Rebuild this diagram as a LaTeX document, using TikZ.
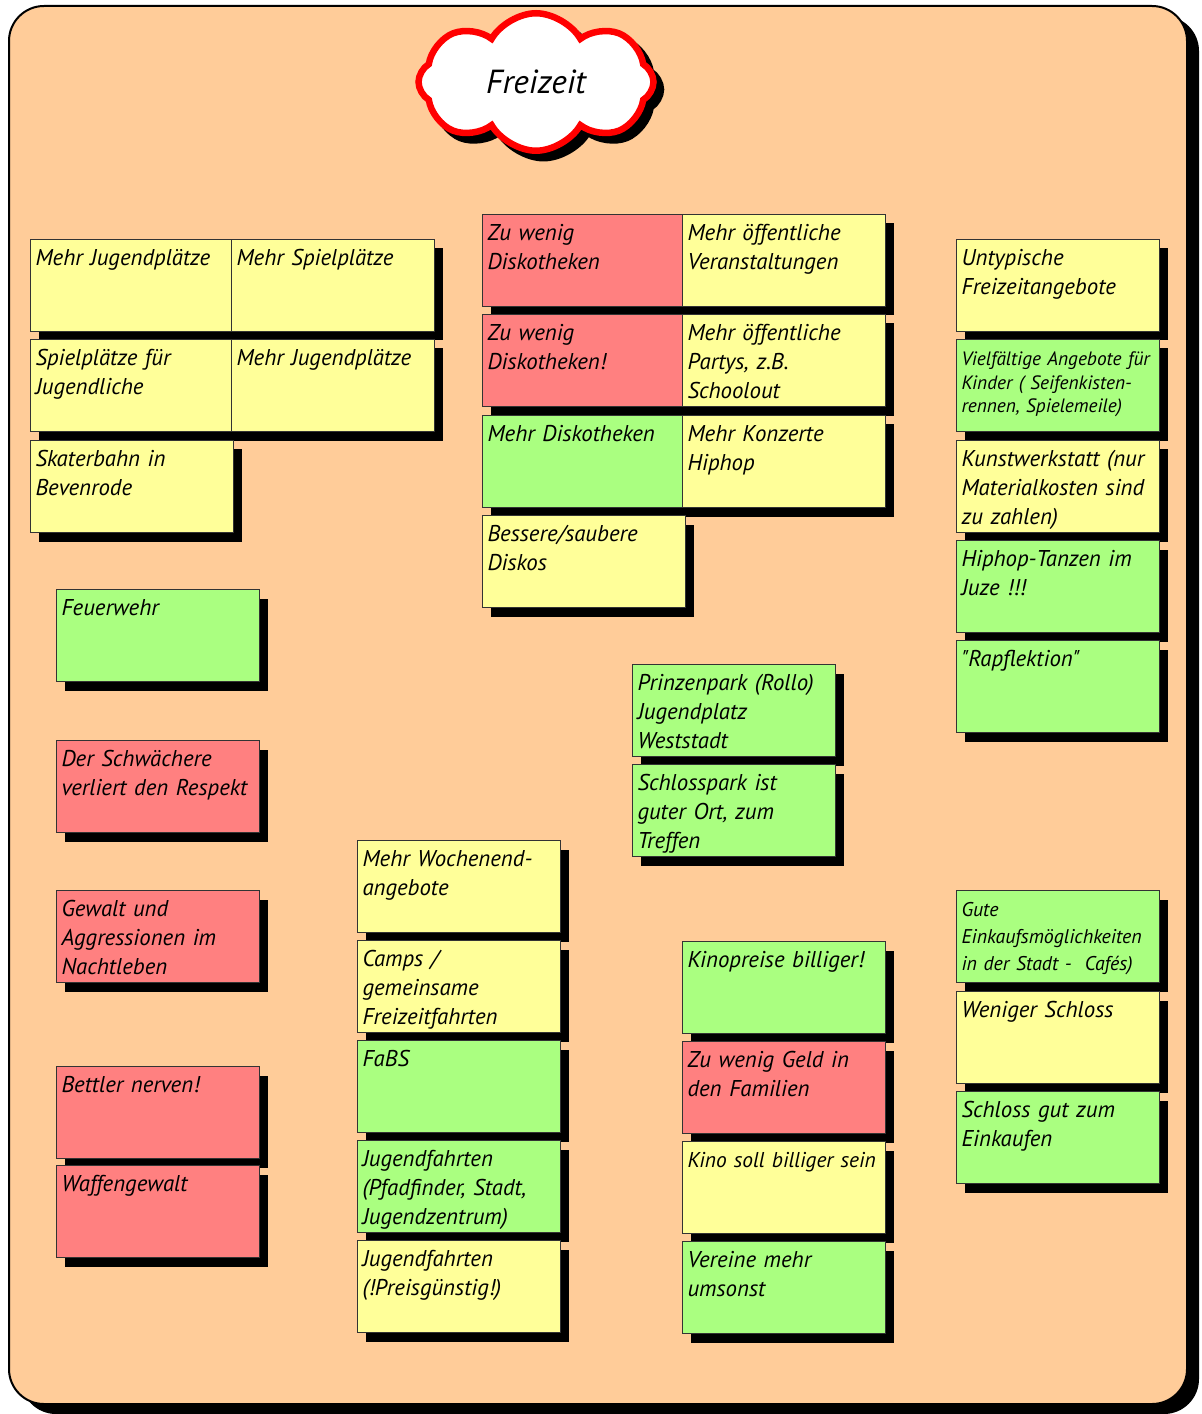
\documentclass[tikz,border=0pt]{standalone}
\usepackage{fontspec}
\setmainfont{PT Sans}[WordSpace=0.6]
\usetikzlibrary{shapes.symbols,shadows}

\definecolor{peach}{HTML}{FFCC99}
\definecolor{idea}{HTML}{FFFF99}
\definecolor{pro}{HTML}{AAFF80}
\definecolor{contra}{HTML}{FF8080}

\begin{document}
\begin{tikzpicture}
    [
        x=0.2mm, y=-0.2mm,
        frame/.style={draw=black, line width=0.4mm, fill=peach, rounded corners=7mm,
            general shadow={fill=black, shadow xshift=2.4mm, shadow yshift=-2mm}},
        title/.style={cloud, cloud puffs=8, cloud puff arc=120, aspect=1.7,
            draw=red, line width=1.3mm, fill=white, minimum width=47mm, minimum height=27.5mm,
            font=\itshape\fontsize{19}{21}\selectfont,
            general shadow={fill=black, draw=black, shadow xshift=1.5mm, shadow yshift=-1.5mm}},
        card/.style={rectangle, draw=black!80, line width=0.2mm, anchor=north west,
            text width=38.6mm, inner xsep=1mm, inner ysep=1mm,
            text height=4.2mm, text depth=12.2mm, align=left,
            font=\itshape\fontsize{13}{16.5}\selectfont,
            general shadow={fill=black, shadow xshift=1.7mm, shadow yshift=-1.8mm}},
        small/.style={font=\itshape\fontsize{11}{13.5}\selectfont},
        smallwide/.style={font=\itshape\fontsize{11.3}{15.5}\selectfont},
        tight/.style={font=\itshape\fontsize{12.2}{16.5}\selectfont},
        idea/.style={card, fill=idea},
        pro/.style={card, fill=pro},
        contra/.style={card, fill=contra},
    ]

    \useasboundingbox (0,0) rectangle (1201,1414);
    \draw[frame] (9,6) rectangle (1187,1404);

    % title
    \node (0) at (536,82) [title] {Freizeit};

    % plaetze
    \node (1) at (30,239)  [idea] {Mehr Jugendplätze};
    \node (2) at (231,239) [idea] {Mehr Spielplätze};
    \node (3) at (30,339)  [idea] {Spielplätze für\\Jugendliche};
    \node (4) at (231,339) [idea] {Mehr Jugendplätze};
    \node (5) at (30,440)  [idea] {Skaterbahn in\\Bevenrode};

    % diskos
    \node (6)  at (482,214) [contra] {Zu wenig\\Diskotheken};
    \node (7)  at (682,214) [idea]   {Mehr öffentliche\\Veranstaltungen};
    \node (8)  at (482,314) [contra] {Zu wenig\\Diskotheken!};
    \node (9)  at (682,314) [idea]   {Mehr öffentliche\\Partys, z.B.\\Schoolout};
    \node (10) at (482,415) [pro]    {Mehr Diskotheken};
    \node (11) at (682,415) [idea]   {Mehr Konzerte\\Hiphop};
    \node (12) at (482,515) [idea]   {Bessere/saubere\\Diskos};

    % angebote
    \node (13) at (956,239) [idea]       {Untypische\\Freizeitangebote};
    \node (14) at (956,339) [pro, small] {Vielfältige Angebote für\\Kinder ( Seifenkisten-\\rennen, Spielemeile)};
    \node (15) at (956,440) [idea]       {Kunstwerkstatt (nur\\Materialkosten sind\\zu zahlen)};
    \node (16) at (956,540) [pro]        {Hiphop-Tanzen im\\Juze !!!};
    \node (17) at (956,640) [pro]        {\textquotedbl Rapflektion\textquotedbl};

    % links
    \node (18) at (56,589)  [pro]    {Feuerwehr};
    \node (19) at (56,740)  [contra] {Der Schwächere\\verliert den Respekt};
    \node (20) at (56,890)  [contra] {Gewalt und\\Aggressionen im\\Nachtleben};
    \node (21) at (56,1066) [contra] {Bettler nerven!};
    \node (22) at (56,1165) [contra] {Waffengewalt};

    % parks
    \node (23) at (632,664) [pro] {Prinzenpark (Rollo)\\Jugendplatz\\Weststadt};
    \node (24) at (632,764) [pro] {Schlosspark ist\\guter Ort, zum\\Treffen};

    % fahrten
    \node (25) at (357,840)  [idea] {Mehr Wochenend-\\angebote};
    \node (26) at (357,940)  [idea] {Camps /\\gemeinsame\\Freizeitfahrten};
    \node (27) at (357,1040) [pro]  {FaBS};
    \node (28) at (357,1140) [pro]  {Jugendfahrten\\(Pfadfinder, Stadt,\\Jugendzentrum)};
    \node (29) at (357,1240) [idea] {Jugendfahrten\\(!Preisgünstig!)};

    % kino
    \node (30) at (682,941)  [pro]         {Kinopreise billiger!};
    \node (31) at (682,1041) [contra]      {Zu wenig Geld in\\den Familien};
    \node (32) at (682,1141) [idea, tight] {Kino soll billiger sein};
    \node (33) at (682,1241) [pro]         {Vereine mehr\\umsonst};

    % einkaufen
    \node (34) at (956,890)  [pro, smallwide] {Gute\\Einkaufsmöglichkeiten\\in der Stadt -\ \ Cafés)};
    \node (35) at (956,991)  [idea]           {Weniger Schloss};
    \node (36) at (956,1091) [pro]            {Schloss gut zum\\Einkaufen};

\end{tikzpicture}
\end{document}
